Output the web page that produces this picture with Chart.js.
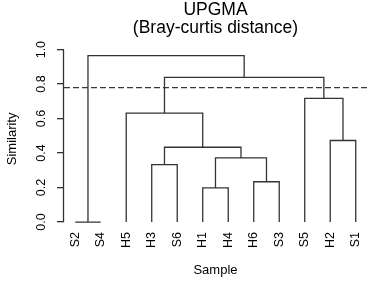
<!DOCTYPE html>
<html>
<head>
<meta charset="utf-8">
<script src="https://cdn.jsdelivr.net/npm/chart.js@4.4.1/dist/chart.umd.min.js"></script>
<style>
  html, body { margin: 0; padding: 0; background: #fff; }
  #wrap { width: 374px; height: 283px; }
</style>
</head>
<body>
<div id="wrap"><canvas id="dendro"></canvas></div>
<script>
// leaf order along the x axis
const leafLabels = ['S2', 'S4', 'H5', 'H3', 'S6', 'H1', 'H4', 'H6', 'S3', 'S5', 'H2', 'S1'];
// merges in order; '#n' refers to the n-th merge (1-based)
const mergeLeft   = ['S2', 'H1', 'H6', 'H3', '#2', '#4', 'H2', 'H5', 'S5', '#8', '#1'];
const mergeRight  = ['S4', 'H4', 'S3', 'S6', '#3', '#5', 'S1', '#6', '#7', '#9', '#10'];
const mergeHeight = [0.0, 0.198, 0.234, 0.333, 0.372, 0.434, 0.473, 0.632, 0.717, 0.839, 0.965];
const cutHeight = 0.78;
const yTicks = [0, 0.2, 0.4, 0.6, 0.8, 1.0];
const xMin = 0.56, xMax = 12.44;
const yMin = -0.04, yMax = 1.005;

const lineColor = '#333';

// x position / height of a node
const nodeX = [], nodeH = [];
function node(ref) {
    if (ref[0] === '#') {
        const k = parseInt(ref.slice(1)) - 1;
        return { x: nodeX[k], y: nodeH[k] };
    }
    return { x: leafLabels.indexOf(ref) + 1, y: 0 };
}

const datasets = [];
mergeHeight.forEach((h, i) => {
    const a = node(mergeLeft[i]);
    const b = node(mergeRight[i]);
    nodeX[i] = (a.x + b.x) / 2;
    nodeH[i] = h;
    datasets.push({
        data: [{ x: a.x, y: a.y }, { x: a.x, y: h }, { x: b.x, y: h }, { x: b.x, y: b.y }],
        borderColor: lineColor,
        borderWidth: 1.3,
        showLine: true,
        pointRadius: 0,
        tension: 0
    });
});

datasets.push({
    data: [{ x: xMin, y: cutHeight }, { x: xMax, y: cutHeight }],
    borderColor: '#3a3a3a',
    borderWidth: 1.3,
    borderDash: [6, 3],
    showLine: true,
    pointRadius: 0
});

// y axis line only from first to last tick, like R
const axisLine = {
    id: 'axisLine',
    afterDraw(chart) {
        const y = chart.scales.y;
        const ctx = chart.ctx;
        const x = chart.chartArea.left;
        ctx.save();
        ctx.strokeStyle = lineColor;
        ctx.lineWidth = 1.3;
        ctx.beginPath();
        ctx.moveTo(x - 0.5, y.getPixelForValue(yTicks[0]));
        ctx.lineTo(x - 0.5, y.getPixelForValue(yTicks[yTicks.length - 1]));
        ctx.stroke();
        ctx.restore();
    }
};

Chart.defaults.font.family = '"Liberation Sans", Arial, sans-serif';
Chart.defaults.color = '#000';

new Chart(document.getElementById('dendro'), {
    type: 'scatter',
    data: { datasets: datasets },
    plugins: [axisLine],
    options: {
        responsive: true,
        maintainAspectRatio: false,
        animation: false,
        layout: { padding: { left: 0, right: 1, top: 0, bottom: 0 } },
        plugins: {
            legend: { display: false },
            tooltip: { enabled: false },
            title: {
                display: true,
                text: ['UPGMA', '(Bray-curtis distance)'],
                color: '#000',
                fullSize: false,
                font: { size: 17.5, weight: 'normal', lineHeight: 1.05 },
                padding: { top: 0.5, bottom: 11.5 }
            }
        },
        scales: {
            x: {
                type: 'linear',
                min: xMin,
                max: xMax,
                afterBuildTicks: scale => {
                    scale.ticks = leafLabels.map((_, i) => ({ value: i + 1 }));
                },
                afterFit: scale => { scale.height = 54; },
                grid: { display: false, drawTicks: false },
                border: { display: false },
                ticks: {
                    autoSkip: false,
                    minRotation: 90,
                    maxRotation: 90,
                    padding: 3,
                    color: '#000',
                    font: { size: 12.5 },
                    callback: v => leafLabels[Math.round(v) - 1]
                },
                title: {
                    display: true,
                    text: 'Sample',
                    color: '#000',
                    font: { size: 13 },
                    padding: { top: 0, bottom: 5 }
                }
            },
            y: {
                min: yMin,
                max: yMax,
                afterBuildTicks: scale => {
                    scale.ticks = yTicks.map(v => ({ value: v }));
                },
                afterFit: scale => { scale.width = 64; },
                grid: {
                    drawOnChartArea: false,
                    drawTicks: true,
                    tickLength: 7,
                    lineWidth: 1.3,
                    color: lineColor
                },
                border: { display: false },
                ticks: {
                    minRotation: 90,
                    maxRotation: 90,
                    crossAlign: 'center',
                    padding: 7,
                    color: '#000',
                    font: { size: 12.5 },
                    callback: v => v.toFixed(1)
                },
                title: {
                    display: true,
                    text: 'Similarity',
                    color: '#000',
                    font: { size: 13 },
                    padding: { top: 5, bottom: 0 }
                }
            }
        }
    }
});
</script>
</body>
</html>
